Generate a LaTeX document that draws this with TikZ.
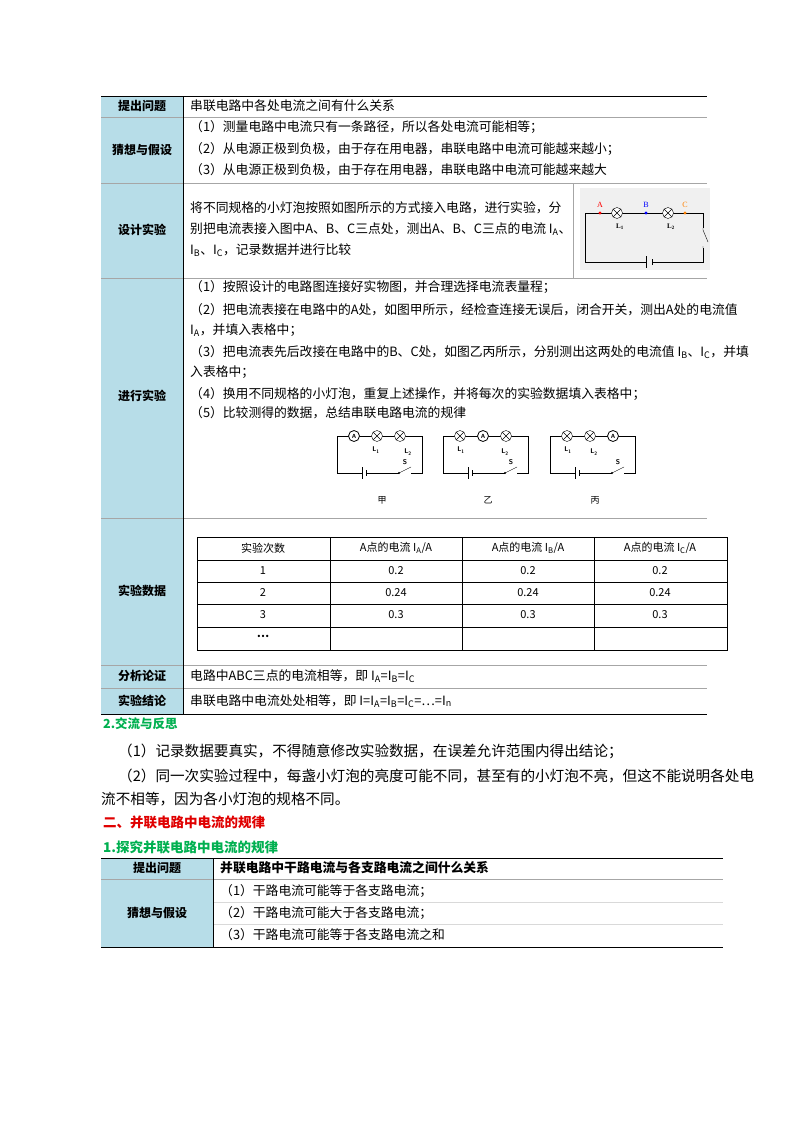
\documentclass[tikz,border=0pt]{standalone}
\usepackage{fontspec}
\setmainfont{Liberation Serif}
\newfontfamily\cjk{Noto Sans CJK SC}
\usetikzlibrary{positioning,calc}
\definecolor{cellblue}{HTML}{B7DDE8}
\definecolor{headgreen}{HTML}{00B050}
\definecolor{headred}{HTML}{E00000}
\tikzset{
  txt/.style={anchor=west,inner sep=0pt,font=\cjk\fontsize{12.8}{14}\selectfont},
  para/.style={anchor=west,inner sep=0pt,font=\cjk\fontsize{14.6}{16}\selectfont},
  lbl/.style={inner sep=0pt,font=\cjk\bfseries\fontsize{12}{13}\selectfont},
  cell/.style={inner sep=0pt,font=\cjk\fontsize{11}{12}\selectfont},
  lamp/.pic={\draw[fill=white] (0,0) circle (5.5); \draw (-3.9,-3.9) -- (3.9,3.9) (-3.9,3.9) -- (3.9,-3.9);},
  amm/.pic={\draw[fill=white,thick] (0,0) circle (5.5); \node[inner sep=0pt,font=\sffamily\bfseries\fontsize{6}{6}\selectfont] {A};}
}
\begin{document}
\begin{tikzpicture}[x=1pt,y=-1pt]
  \useasboundingbox[fill=white] (0,0) rectangle (800,1132);
  % table 1
  \fill[cellblue] (101,96) rectangle (183,714);
  \draw[thick] (101,96) -- (707,96);
  \foreach \yy in {117,183,278,518,665,688} \draw[gray!70] (101,\yy) -- (707,\yy);
  \draw[thick] (101,714) -- (707,714);
  \draw (183,96) -- (183,714);
  \draw[gray!70] (573,183) -- (573,278);
  \node[lbl] (q1) at (142,106) {提出问题};
  \node[lbl] (h1) at (142,150) {猜想与假设};
  \node[lbl] (d1) at (142,230) {设计实验};
  \node[lbl] (p1) at (142,396) {进行实验};
  \node[lbl] (e1) at (142,591) {实验数据};
  \node[lbl] (a1) at (142,676) {分析论证};
  \node[lbl] (c1) at (142,701) {实验结论};
  \node[txt] (tq) at (190,106) {串联电路中各处电流之间有什么关系};
  \node[txt] (th1) at (190,127) {（1）测量电路中电流只有一条路径，所以各处电流可能相等；};
  \node[txt] (th2) at (190,149) {（2）从电源正极到负极，由于存在用电器，串联电路中电流可能越来越小；};
  \node[txt] (th3) at (190,170) {（3）从电源正极到负极，由于存在用电器，串联电路中电流可能越来越大};
  \node[txt] (td1) at (190,208) {将不同规格的小灯泡按照如图所示的方式接入电路，进行实验，分};
  \node[txt] (td2) at (190,229) {别把电流表接入图中A、B、C三点处，测出A、B、C三点的电流 I\textsubscript{A}、};
  \node[txt] (td3) at (190,250) {I\textsubscript{B}、I\textsubscript{C}，记录数据并进行比较};
  % design circuit
  \fill[gray!12] (580,188) rectangle (710,270);
  \draw (585,213) rectangle (703,262);
  \pic at (617,213) {lamp};
  \pic at (668,213) {lamp};
  \fill[red] (600,213) circle (1.6);
  \fill[blue] (646,213) circle (1.6);
  \fill[orange] (685,213) circle (1.6);
  \node[inner sep=0pt,font=\fontsize{8}{8}\selectfont,text=red] (ptA) at (600,205) {A};
  \node[inner sep=0pt,font=\fontsize{8}{8}\selectfont,text=blue] (ptB) at (646,205) {B};
  \node[inner sep=0pt,font=\fontsize{8}{8}\selectfont,text=orange] (ptC) at (685,205) {C};
  \node[inner sep=0pt,font=\bfseries\fontsize{7}{7}\selectfont] (dl1) at (620,227) {L\textsubscript{1}};
  \node[inner sep=0pt,font=\bfseries\fontsize{7}{7}\selectfont] (dl2) at (671,227) {L\textsubscript{2}};
  \fill[gray!12] (700,228) rectangle (706,248);
  \draw (703,228) -- (703,230) (703,230) -- (708,242) (703,246) -- (703,248);
  \fill[gray!12] (646,258) rectangle (652,266);
  \draw (646,256) -- (646,268) (652,259) -- (652,265);
  % procedure
  \node[txt] (tp1) at (190,287) {（1）按照设计的电路图连接好实物图，并合理选择电流表量程；};
  \node[txt] (tp2) at (190,310) {（2）把电流表接在电路中的A处，如图甲所示，经检查连接无误后，闭合开关，测出A处的电流值};
  \node[txt] (tp3) at (190,330) {I\textsubscript{A}，并填入表格中；};
  \node[txt] (tp4) at (190,352) {（3）把电流表先后改接在电路中的B、C处，如图乙丙所示，分别测出这两处的电流值 I\textsubscript{B}、I\textsubscript{C}，并填};
  \node[txt] (tp5) at (190,372) {入表格中；};
  \node[txt] (tp6) at (190,394) {（4）换用不同规格的小灯泡，重复上述操作，并将每次的实验数据填入表格中；};
  \node[txt] (tp7) at (190,413) {（5）比较测得的数据，总结串联电路电流的规律};
  % small circuits
  \foreach \xl/\pa/\pb/\pc/\fig/\la/\lb [count=\i] in
      {337/amm/lamp/lamp/甲/39/71, 443/lamp/amm/lamp/乙/18/62, 550/lamp/lamp/amm/丙/18/44} {
    \draw (\xl,436) rectangle ({\xl+85},473);
    \pic at ({\xl+17},436) {\pa};
    \pic at ({\xl+40},436) {\pb};
    \pic at ({\xl+63},436) {\pc};
    \node[inner sep=0pt,font=\sffamily\bfseries\fontsize{7}{7}\selectfont] (sl\i) at ({\xl+\la},450) {L\textsubscript{1}};
    \node[inner sep=0pt,font=\sffamily\bfseries\fontsize{7}{7}\selectfont] (sm\i) at ({\xl+\lb},452) {L\textsubscript{2}};
    \node[inner sep=0pt,font=\sffamily\bfseries\fontsize{7}{7}\selectfont] (ss\i) at ({\xl+68},462) {S};
    \fill[white] ({\xl+25},470) rectangle ({\xl+29},476);
    \draw ({\xl+25},467) -- ({\xl+25},479) ({\xl+29},470) -- ({\xl+29},476);
    \fill[white] ({\xl+62},470) rectangle ({\xl+74},476);
    \draw ({\xl+62},473) -- ({\xl+74},467);
    \fill ({\xl+62},473) circle (1.2);
    \node[inner sep=0pt,font=\cjk\fontsize{9}{9}\selectfont] (fg\i) at ({\xl+45},500) {\fig};
  }
  % data table
  \draw (197,537) rectangle (727,650);
  \foreach \yy in {560,582,604,627} \draw (197,\yy) -- (727,\yy);
  \foreach \xx in {330,462,594} \draw (\xx,537) -- (\xx,650);
  \node[cell] (h0) at (263,548) {实验次数};
  \node[cell] (h1c) at (396,548) {A点的电流 I\textsubscript{A}/A};
  \node[cell] (h2c) at (528,548) {A点的电流 I\textsubscript{B}/A};
  \node[cell] (h3c) at (660,548) {A点的电流 I\textsubscript{C}/A};
  \foreach \n/\v/\yy in {1/0.2/571, 2/0.24/593, 3/0.3/615} {
    \node[cell] (r\n a) at (263,\yy) {\n};
    \node[cell] (r\n b) at (396,\yy) {\v};
    \node[cell] (r\n c) at (528,\yy) {\v};
    \node[cell] (r\n d) at (660,\yy) {\v};
  }
  \node[cell] (rdots) at (263,636) {\textbf{…}};
  \node[txt] (ta) at (190,676) {电路中ABC三点的电流相等，即 I\textsubscript{A}=I\textsubscript{B}=I\textsubscript{C}};
  \node[txt] (tc) at (190,701) {串联电路中电流处处相等，即 I=I\textsubscript{A}=I\textsubscript{B}=I\textsubscript{C}=…=I\textsubscript{n}};
  % text below
  \node[txt,font=\cjk\bfseries\fontsize{12.5}{14}\selectfont,text=headgreen] (s2) at (103,724) {2.交流与反思};
  \node[para] (s2a) at (118,751) {（1）记录数据要真实，不得随意修改实验数据，在误差允许范围内得出结论；};
  \node[para] (s2b) at (118,776) {（2）同一次实验过程中，每盏小灯泡的亮度可能不同，甚至有的小灯泡不亮，但这不能说明各处电};
  \node[para] (s2c) at (101,799) {流不相等，因为各小灯泡的规格不同。};
  \node[txt,font=\cjk\bfseries\fontsize{13.5}{15}\selectfont,text=headred] (s3) at (103,822) {二、并联电路中电流的规律};
  \node[txt,font=\cjk\bfseries\fontsize{13.5}{15}\selectfont,text=headgreen] (s31) at (103,847) {1.探究并联电路中电流的规律};
  % table 2
  \fill[cellblue] (101,858) rectangle (213,947);
  \draw[thick] (101,858) -- (723,858);
  \draw[gray!70] (101,879) -- (723,879);
  \draw[gray!30] (213,902) -- (723,902) (213,924) -- (723,924);
  \draw[thick] (101,947) -- (723,947);
  \draw (213,858) -- (213,947);
  \node[lbl] (q2) at (157,868) {提出问题};
  \node[lbl] (h2) at (157,913) {猜想与假设};
  \node[txt,font=\cjk\bfseries\fontsize{12.8}{14}\selectfont] (tq2) at (220,868) {并联电路中干路电流与各支路电流之间什么关系};
  \node[txt] (tg1) at (220,891) {（1）干路电流可能等于各支路电流；};
  \node[txt] (tg2) at (220,913) {（2）干路电流可能大于各支路电流；};
  \node[txt] (tg3) at (220,935) {（3）干路电流可能等于各支路电流之和};
\end{tikzpicture}
\end{document}
